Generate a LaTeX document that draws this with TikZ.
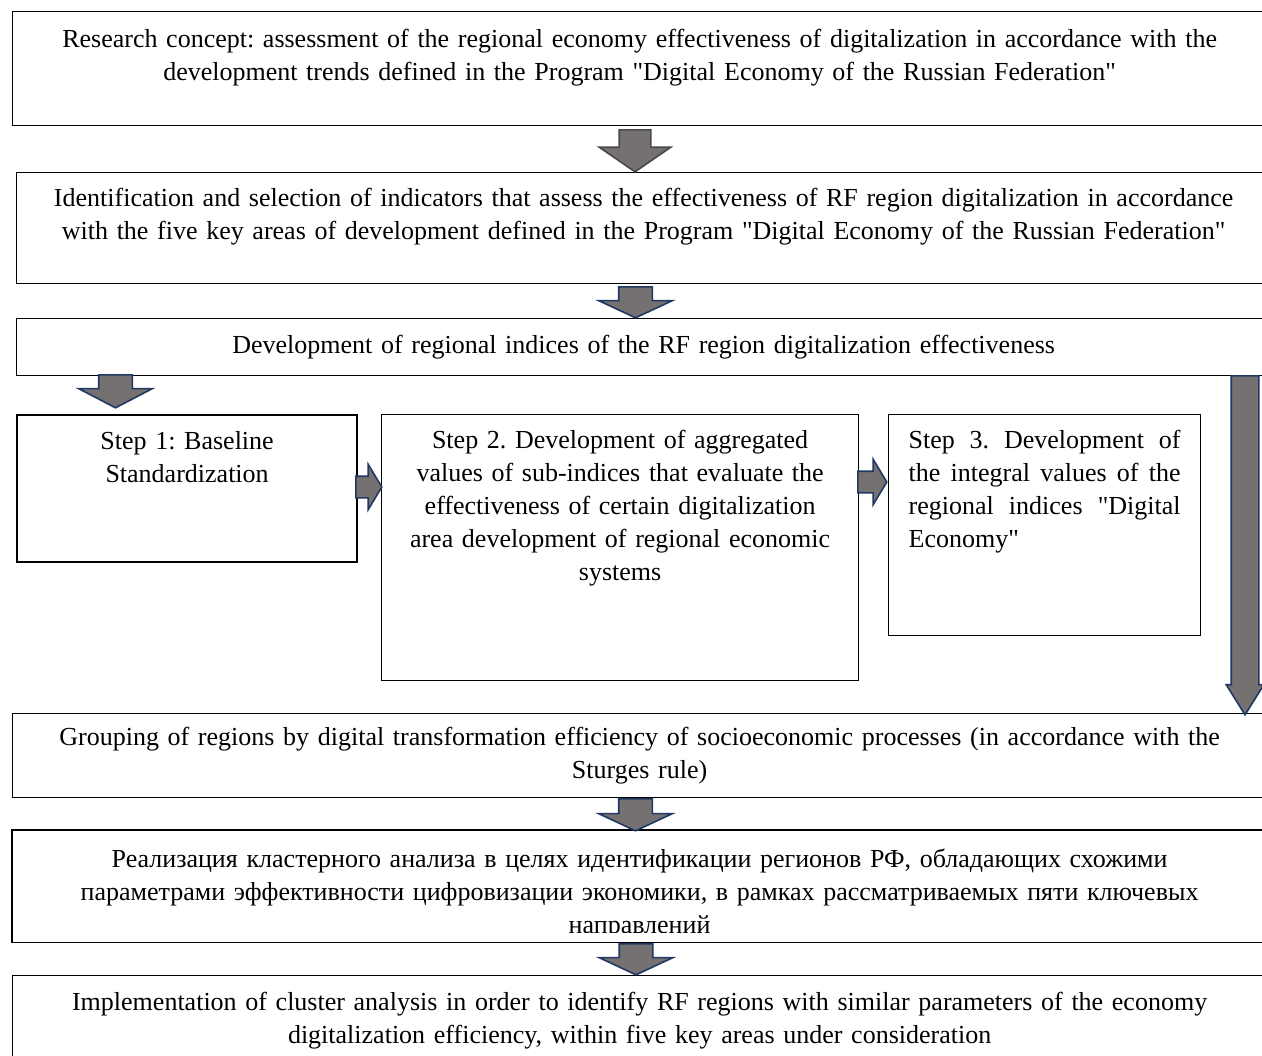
\documentclass[tikz,border=0pt]{standalone}
\usepackage{fontspec}
\setmainfont[Ligatures=TeXOff]{Liberation Serif}
\usepackage{xcolor}
\usepackage{tikz}
\usetikzlibrary{shapes.arrows,positioning}
\definecolor{arrowfill}{HTML}{767171}
\definecolor{arrowline}{HTML}{203864}
\definecolor{arrowgrey}{HTML}{4A4848}
\frenchspacing

\begin{document}
\begin{tikzpicture}[
    x=0.5pt, y=-0.5pt,
    font=\fontsize{13}{16.5}\selectfont,
    box/.style={rectangle, draw, line width=0.6pt, inner sep=0pt, align=center, anchor=north west},
    wide/.style={box, text width=627pt},
    stepbox/.style={box, text height=17pt},
    downarrow/.style={single arrow, draw=arrowline, fill=arrowfill, line width=0.8pt, inner xsep=0pt, inner ysep=8pt,
        rotate=-90, anchor=tail, minimum width=36pt, single arrow head extend=10pt, single arrow tip angle=130},
    rightarrow/.style={single arrow, draw=arrowline, fill=arrowfill, line width=0.8pt, inner xsep=0pt, inner ysep=5pt,
        anchor=tail, minimum width=22pt, single arrow head extend=6pt, single arrow tip angle=118}
]
    \useasboundingbox (0,0) rectangle (1262,1055);

    \node[wide, text height=18pt, text depth=39pt] (concept) at (12,11)
        {Research concept: assessment of the regional economy effectiveness of digitalization in accordance with the\\
         development trends defined in the Program "Digital Economy of the Russian Federation"};
    \node[wide, text height=17pt, text depth=38.5pt] (indicators) at (16,172)
        {Identification and selection of indicators that assess the effectiveness of RF region digitalization in accordance\\
         with the five key areas of development defined in the Program "Digital Economy of the Russian Federation"};
    \node[wide, text height=17.5pt, text depth=11pt] (indices) at (16,318)
        {Development of regional indices of the RF region digitalization effectiveness};

    \node[stepbox, line width=1.1pt, text width=170pt, text depth=56.5pt] (step1) at (16,414)
        {Step 1: Baseline\\Standardization};
    \node[stepbox, text width=238.5pt, text depth=116pt] (step2) at (381,414)
        {Step 2. Development of aggregated\\values of sub-indices that evaluate the\\effectiveness of certain digitalization\\
         area development of regional economic\\systems};
    \node[stepbox, align=justify, inner xsep=10pt, text width=136pt, text depth=93.5pt] (step3) at (888,414)
        {Step 3. Development of\linebreak the integral values of the\linebreak regional indices "Digital\linebreak Economy"};

    \node[wide, text height=16pt, text depth=26pt] (grouping) at (12,713)
        {Grouping of regions by digital transformation efficiency of socioeconomic processes (in accordance with the\\
         Sturges rule)};
    \begin{scope}
        \clip (0,820) rectangle (1262,932);
        \node[wide, draw=none, text height=18.5pt, text depth=37pt] (clusterru) at (12,830)
            {Реализация кластерного анализа в целях идентификации регионов РФ, обладающих схожими\\
             параметрами эффективности цифровизации экономики, в рамках рассматриваемых пяти ключевых\\
             направлений};
    \end{scope}
    \draw[line width=0.6pt] (clusterru.north west) rectangle (clusterru.south east);
    \node[wide, text height=17.5pt, text depth=27pt] (clusteren) at (12,975)
        {Implementation of cluster analysis in order to identify RF regions with similar parameters of the economy\\
         digitalization efficiency, within five key areas under consideration};

    % block arrows
    \node[downarrow, draw=arrowgrey, inner ysep=7.5pt, minimum height=21pt, minimum width=35pt, single arrow tip angle=111] (a1) at (635,129) {};
    \node[downarrow, minimum height=15.5pt] (a2) at (635.5,286) {};
    \node[downarrow, minimum height=16.5pt, single arrow tip angle=125] (a3) at (115.5,374) {};
    \node[rightarrow, minimum height=13pt] (a4) at (355,487) {};
    \node[rightarrow, minimum height=14.5pt] (a5) at (857,482) {};
    \node[downarrow, inner ysep=6.5pt, minimum height=169.5pt, minimum width=18pt, single arrow head extend=2.5pt, single arrow tip angle=64] (a6) at (1245,375) {};
    \node[downarrow, minimum height=16pt] (a7) at (635.5,798) {};
    \node[downarrow, minimum height=15.5pt] (a8) at (636,943) {};
\end{tikzpicture}
\end{document}
